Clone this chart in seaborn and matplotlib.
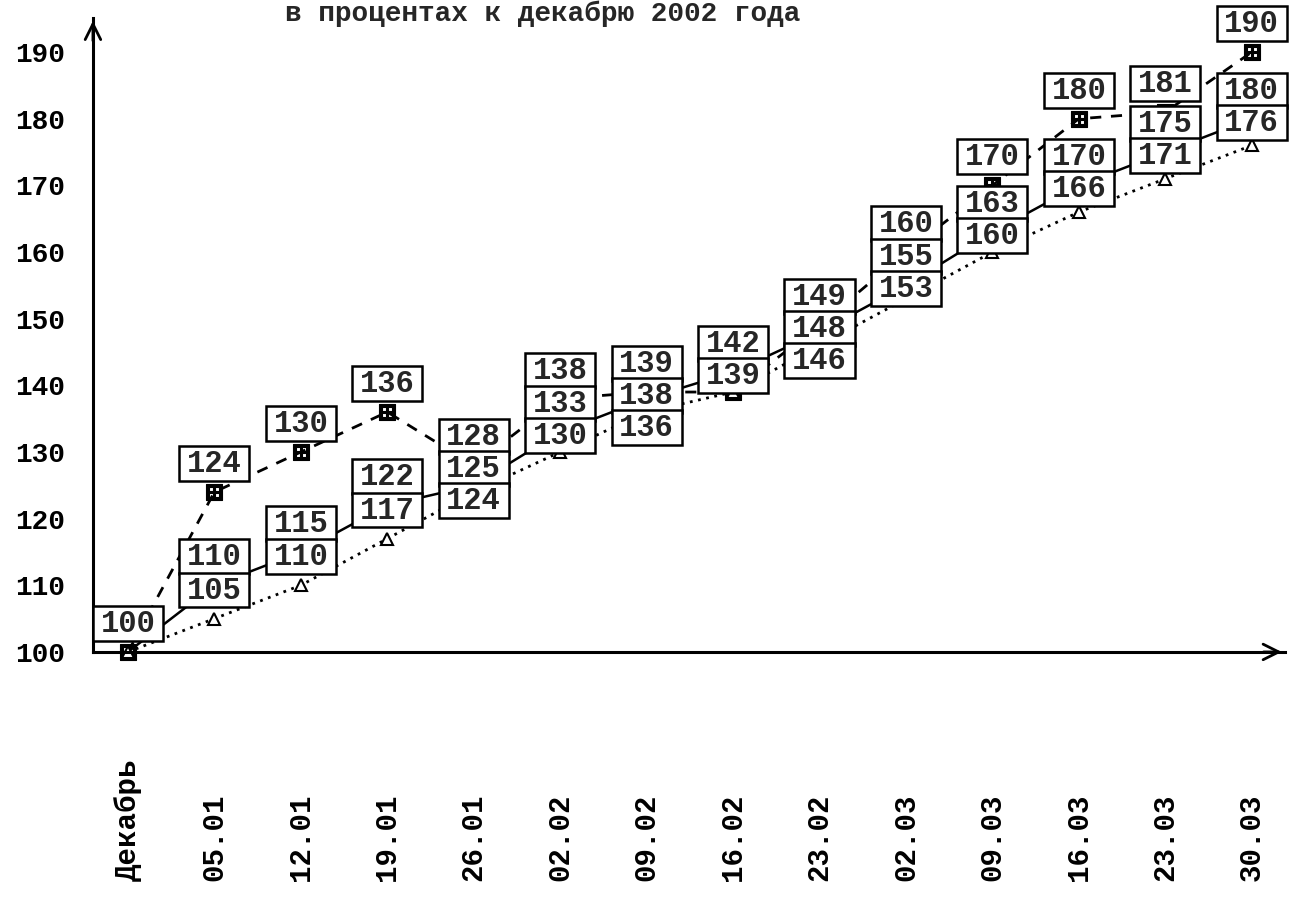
import matplotlib
matplotlib.use("Agg")
import matplotlib.pyplot as plt
from matplotlib.path import Path
import seaborn as sns
import numpy as np

# ---- data ----
dates = ["Декабрь", "05.01", "12.01", "19.01", "26.01", "02.02", "09.02",
         "16.02", "23.02", "02.03", "09.03", "16.03", "23.03", "30.03"]
series_dashed = [100, 124, 130, 136, 128, 138, 139, 139, 149, 160, 170, 180, 181, 190]
series_solid = [100, 110, 115, 122, 125, 133, 138, 142, 148, 155, 163, 170, 175, 180]
series_dotted = [100, 105, 110, 117, 124, 130, 136, 139, 146, 153, 160, 166, 171, 176]
y_ticks = [100, 110, 120, 130, 140, 150, 160, 170, 180, 190]
title_text = "в процентах к декабрю 2002 года"

sns.set_style("white")
plt.rcParams["font.family"] = ["Liberation Mono", "DejaVu Sans Mono", "DejaVu Sans"]
plt.rcParams["font.weight"] = "bold"

DPI = 100
fig = plt.figure(figsize=(12.91, 9.08), dpi=DPI)
ax = fig.add_axes([0.072, 0.282, 0.923, 0.698])

pos = np.arange(len(dates))

sns.lineplot(x=pos, y=series_dashed, ax=ax, color="black", lw=2,
             linestyle=(0, (4, 3.5)), marker=r"$\boxplus$", markersize=11,
             markeredgecolor="black", markeredgewidth=0.8, zorder=2, clip_on=False)
sns.lineplot(x=pos, y=series_solid, ax=ax, color="black", lw=1.8,
             linestyle="-", zorder=2, clip_on=False)
sns.lineplot(x=pos, y=series_dotted, ax=ax, color="black", lw=2,
             linestyle=(0, (1, 2)), marker="^", markersize=8,
             markerfacecolor="white", markeredgecolor="black",
             markeredgewidth=1.5, zorder=2, clip_on=False)

ax.set_xlim(-0.405, 13.38)
ax.set_ylim(100, 195.1)


def label_box(x0, y0, width, height, mutation_size):
    px = 0.25 * mutation_size
    pt = 0.10 * mutation_size
    pb = 0.06 * mutation_size
    verts = [(x0 - px, y0 - pb), (x0 + width + px, y0 - pb),
             (x0 + width + px, y0 + height + pt), (x0 - px, y0 + height + pt),
             (x0 - px, y0 - pb)]
    return Path(verts, closed=True)


box = dict(boxstyle=label_box, fc="white", ec="black", lw=1.8)

# stacked value labels (top-down, identical values share one box)
OFFSET_PX = 28
STEP_PX = 32
all_series = [series_dashed, series_solid, series_dotted]
for i in pos:
    vals = sorted(set(s[i] for s in all_series), reverse=True)
    prev_center = None
    for v in vals:
        ypix = ax.transData.transform((i, v))[1]
        center = ypix + OFFSET_PX
        if prev_center is not None:
            center = min(center, prev_center - STEP_PX)
        prev_center = center
        off_pt = (center - ypix) * 72.0 / DPI
        ax.annotate(str(v), (i, v), xytext=(0, off_pt), textcoords="offset points",
                    ha="center", va="center", fontsize=22, fontweight="bold",
                    bbox=box, zorder=5, annotation_clip=False)

ax.set_yticks(y_ticks)
ax.set_yticklabels([str(t) for t in y_ticks], fontsize=20, fontweight="bold")
ax.set_xticks(pos)
ax.set_xticklabels(dates, rotation=90, fontsize=21, fontweight="bold")
for lab in ax.get_xticklabels():
    lab.set_verticalalignment("bottom")
ax.tick_params(axis="x", direction="out", length=12, width=1.5, pad=153, colors="black")
ax.tick_params(axis="y", direction="inout", length=10, width=1.5, pad=15, colors="black")
ax.set_xlabel("")
ax.set_ylabel("")

for s in ("top", "right"):
    ax.spines[s].set_visible(False)
for s in ("left", "bottom"):
    ax.spines[s].set_linewidth(2.2)
    ax.spines[s].set_color("black")

# axis arrows
ax.annotate("", xy=(0, 1.0), xytext=(0, 0.96), xycoords="axes fraction",
            arrowprops=dict(arrowstyle="->", lw=2, color="black", mutation_scale=28))
ax.annotate("", xy=(1.0, 0), xytext=(0.98, 0), xycoords="axes fraction",
            arrowprops=dict(arrowstyle="->", lw=2, color="black", mutation_scale=28))

fig.text(0.42, 0.999, title_text, ha="center", va="top", fontsize=20,
         fontweight="bold")

fig.savefig("out.png", dpi=DPI)
